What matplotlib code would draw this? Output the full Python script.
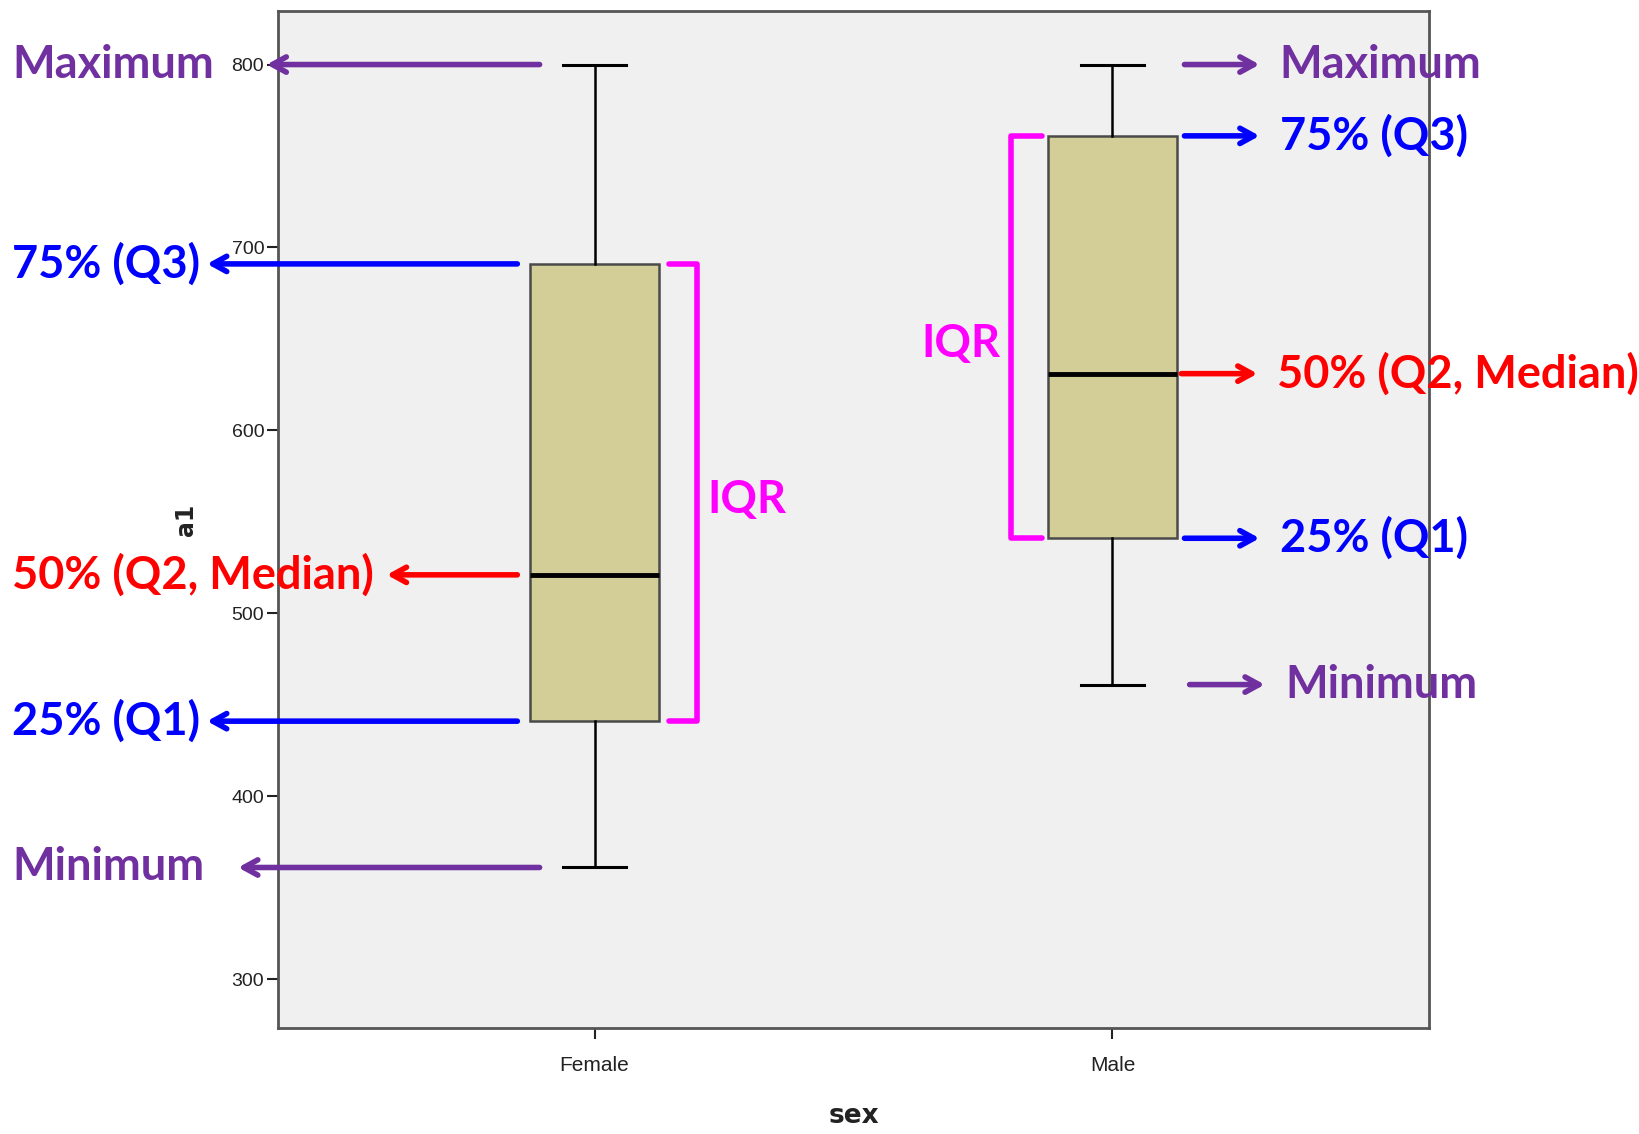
import matplotlib
matplotlib.use("Agg")
import matplotlib.pyplot as plt

# ---- data ----
categories = ["Female", "Male"]
minimum = [361, 461]
q1 = [441, 541]
median = [521, 631]
q3 = [691, 761]
maximum = [800, 800]
yticks = [300, 400, 500, 600, 700, 800]

left_labels = ["Maximum", "75% (Q3)", "50% (Q2, Median)", "25% (Q1)", "Minimum"]
right_labels = ["Maximum", "75% (Q3)", "50% (Q2, Median)", "25% (Q1)", "Minimum"]

PURPLE = "#7030A0"
BLUE = "#0000FF"
RED = "#FF0000"
MAGENTA = "#FF00FF"
label_colors = [PURPLE, BLUE, RED, BLUE, PURPLE]

fig = plt.figure(figsize=(16.39, 11.34), dpi=100)
fig.patch.set_facecolor("white")
ax = fig.add_axes([266/1568, 1-984/1085, 1101/1568, 973/1085])
ax.set_facecolor("#F0F0F0")

stats = []
for i, c in enumerate(categories):
    stats.append(dict(label=c, whislo=minimum[i], q1=q1[i], med=median[i],
                      q3=q3[i], whishi=maximum[i], fliers=[]))
ax.bxp(stats, positions=[0, 1], widths=0.248, capwidths=0.121, patch_artist=True,
       showfliers=False,
       boxprops=dict(facecolor="#D3CE98", edgecolor="#4a4a4a", linewidth=1.8),
       medianprops=dict(color="black", linewidth=3.5),
       whiskerprops=dict(color="black", linewidth=1.8),
       capprops=dict(color="black", linewidth=2.2))

ax.set_xlim(-0.611, 1.611)
ax.set_ylim(273, 829)
ax.set_yticks(yticks)
ax.set_yticklabels([str(t) for t in yticks])
ax.set_xticks([0, 1])
ax.set_xticklabels(categories)
for s in ax.spines.values():
    s.set_color("#555555")
    s.set_linewidth(2.0)
tickfont = ["Liberation Sans Narrow", "Liberation Sans"]
ax.tick_params(axis="both", direction="out", length=8, width=1.5, color="#222222",
               labelsize=14, labelcolor="#222222")
for lab in ax.get_yticklabels() + ax.get_xticklabels():
    lab.set_family(tickfont)
ax.tick_params(axis="y", pad=2)
ax.tick_params(axis="x", pad=12, labelsize=15)
ax.set_ylabel("a1", fontsize=17, fontweight="bold", labelpad=24, color="#222222")
ax.set_xlabel("sex", fontsize=19, fontweight="bold", labelpad=20, color="#222222")

afont = dict(family=["Lato", "DejaVu Sans"], fontweight="bold", fontsize=32.5)
astyle = "->,head_length=1.0,head_width=0.55"

# Female (left side) annotations
f_vals = [maximum[0], q3[0], median[0], q1[0], minimum[0]]
f_tails = [-0.106, -0.149, -0.149, -0.149, -0.106]
f_heads = [-0.633, -0.748, -0.401, -0.748, -0.688]
for lab, col, v, t, h in zip(left_labels, label_colors, f_vals, f_tails, f_heads):
    ax.annotate("", xy=(h, v), xytext=(t, v), annotation_clip=False,
                arrowprops=dict(arrowstyle=astyle, color=col, lw=4, shrinkA=0, shrinkB=0))
    ax.text(-1.124, v, lab, color=col, ha="left", va="center", clip_on=False, **afont)

# Male (right side) annotations
m_vals = [maximum[1], q3[1], median[1], q1[1], minimum[1]]
m_tails = [1.139, 1.139, 1.133, 1.139, 1.149]
m_heads = [1.284, 1.284, 1.280, 1.284, 1.294]
m_text = [1.323, 1.323, 1.317, 1.323, 1.333]
for lab, col, v, t, h, tx in zip(right_labels, label_colors, m_vals, m_tails, m_heads, m_text):
    ax.annotate("", xy=(h, v), xytext=(t, v), annotation_clip=False,
                arrowprops=dict(arrowstyle=astyle, color=col, lw=4, shrinkA=0, shrinkB=0))
    ax.text(tx, v, lab, color=col, ha="left", va="center", clip_on=False, **afont)

# IQR brackets
ax.plot([0.144, 0.198, 0.198, 0.144], [q3[0], q3[0], q1[0], q1[0]],
        color=MAGENTA, lw=4, solid_joinstyle="round", solid_capstyle="round", clip_on=False)
ax.text(0.218, (q1[0] + q3[0]) / 2 - 4, "IQR", color=MAGENTA, ha="left", va="center", **afont)
ax.plot([0.864, 0.804, 0.804, 0.864], [q3[1], q3[1], q1[1], q1[1]],
        color=MAGENTA, lw=4, solid_joinstyle="round", solid_capstyle="round", clip_on=False)
ax.text(0.783, (q1[1] + q3[1]) / 2 - 4, "IQR", color=MAGENTA, ha="right", va="center", **afont)

fig.savefig("out.png", dpi=100, facecolor="white")
